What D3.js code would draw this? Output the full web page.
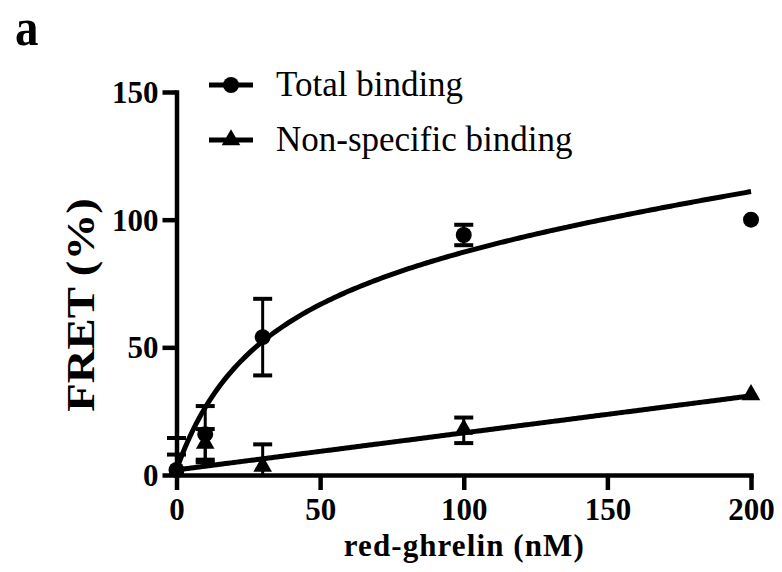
<!DOCTYPE html>
<html>
<head>
<meta charset="utf-8">
<script src="https://cdn.jsdelivr.net/npm/d3@7"></script>
<style>
  html, body { margin: 0; padding: 0; background: #fff; }
  svg { display: block; }
  text { font-family: "Liberation Serif", "Times New Roman", serif; fill: #000; }
</style>
</head>
<body>
<svg id="chart" width="782" height="572"></svg>
<script>
// Ligand concentrations (nM)
const concentrations = [0, 10, 30, 100, 200];
// Total binding: mean FRET (%) and SEM
const totalMean = [2, 16, 54, 94, 100];
const totalErr  = [12.5, 11, 15, 4, 0];
// Non-specific binding: mean FRET (%) and SEM
const nonSpecMean = [1, 12, 3, 17.5, 31];
const nonSpecErr  = [7, 6, 9, 5, 0];

// Fitted model: one site, total and non-specific
const fitBmax = 92;     // specific Bmax (%)
const fitKd = 30;       // nM
const fitNsSlope = 0.145;
const fitBackground = 2;

const xTicks = [0, 50, 100, 150, 200];
const yTicks = [0, 50, 100, 150];

const svg = d3.select("#chart");

const x = d3.scaleLinear().domain([0, 200]).range([176.5, 751]);
const y = d3.scaleLinear().domain([0, 150]).range([475, 92]);

// Panel letter
svg.append("text")
  .attr("transform", "translate(15,45) scale(1,1.12)")
  .style("font-size", "47px").style("font-weight", "bold")
  .text("a");

// Axes
const xAxis = d3.axisBottom(x).tickValues(xTicks).tickSize(15).tickPadding(6).tickSizeOuter(0);
const yAxis = d3.axisLeft(y).tickValues(yTicks).tickSize(14).tickPadding(4).tickSizeOuter(0);

const gx = svg.append("g").attr("transform", `translate(0,${y(0)})`).call(xAxis);
const gy = svg.append("g").attr("transform", `translate(${x(0)},0)`).call(yAxis);

[gx, gy].forEach(g => {
  g.select(".domain").attr("stroke", "#000").attr("stroke-width", 4.5).attr("stroke-linecap", "square");
  g.selectAll(".tick line").attr("stroke", "#000").attr("stroke-width", 4.5);
  g.selectAll(".tick text")
    .style("font-family", '"Liberation Serif", "Times New Roman", serif')
    .style("font-size", "31px").style("font-weight", "bold").attr("fill", "#000");
});
gy.selectAll(".tick text").attr("dy", "0.34em");
gx.selectAll(".tick text").attr("dy", "0.76em");

// Axis titles
svg.append("text")
  .attr("x", x(100)).attr("y", 556)
  .attr("text-anchor", "middle")
  .attr("textLength", 240).attr("lengthAdjust", "spacing")
  .style("font-size", "31px").style("font-weight", "bold")
  .text("red-ghrelin (nM)");

svg.append("text")
  .attr("transform", `translate(94,305) rotate(-90) scale(1.17,1)`)
  .attr("text-anchor", "middle")
  .style("font-size", "40px").style("font-weight", "bold")
  .text("FRET (%)");

// Fitted curves
const curveX = d3.range(0, 200.5, 1);
const nsModel = c => fitNsSlope * c + fitBackground;
const totalModel = c => fitBmax * c / (fitKd + c) + nsModel(c);

const line = d3.line().x(d => x(d[0])).y(d => y(d[1]));

svg.append("path")
  .datum(curveX.map(c => [c, totalModel(c)]))
  .attr("d", line).attr("fill", "none").attr("stroke", "#000").attr("stroke-width", 5);

svg.append("path")
  .datum(curveX.map(c => [c, nsModel(c)]))
  .attr("d", line).attr("fill", "none").attr("stroke", "#000").attr("stroke-width", 5);

// Error bars, clipped at the x axis
svg.append("clipPath").attr("id", "plotClip")
  .append("rect").attr("x", 0).attr("y", 0).attr("width", 782).attr("height", y(0));

function errorBars(means, errs) {
  const g = svg.append("g").attr("clip-path", "url(#plotClip)");
  concentrations.forEach((c, i) => {
    if (!errs[i]) return;
    const cx = x(c), top = y(means[i] + errs[i]), bot = y(means[i] - errs[i]);
    g.append("line").attr("x1", cx).attr("x2", cx).attr("y1", top).attr("y2", bot)
      .attr("stroke", "#000").attr("stroke-width", 3);
    [top, bot].forEach(v => g.append("line")
      .attr("x1", cx - 9.5).attr("x2", cx + 9.5).attr("y1", v).attr("y2", v)
      .attr("stroke", "#000").attr("stroke-width", 4));
  });
}
errorBars(totalMean, totalErr);
errorBars(nonSpecMean, nonSpecErr);

// Markers
const circleSym = d3.symbol().type(d3.symbolCircle).size(200);
const triSym = d3.symbol().type(d3.symbolTriangle).size(150);

svg.append("g").selectAll("path")
  .data(concentrations.map((c, i) => [c, totalMean[i]]))
  .join("path")
  .attr("d", circleSym)
  .attr("transform", d => `translate(${x(d[0])},${y(d[1])})`)
  .attr("fill", "#000");

svg.append("g").selectAll("path")
  .data(concentrations.map((c, i) => [c, nonSpecMean[i]]))
  .join("path")
  .attr("d", triSym)
  .attr("transform", d => `translate(${x(d[0])},${y(d[1]) - 1})`)
  .attr("fill", "#000");

// Legend
const legend = [
  { label: "Total binding", sym: circleSym, y: 85 },
  { label: "Non-specific binding", sym: triSym, y: 140 }
];
const lg = svg.append("g");
legend.forEach(d => {
  lg.append("line").attr("x1", 209).attr("x2", 253).attr("y1", d.y).attr("y2", d.y)
    .attr("stroke", "#000").attr("stroke-width", 5);
  lg.append("path").attr("d", d.sym).attr("transform", `translate(231,${d.y})`).attr("fill", "#000");
  lg.append("text").attr("x", 276).attr("y", d.y + 11)
    .style("font-size", "35px")
    .text(d.label);
});
</script>
</body>
</html>
